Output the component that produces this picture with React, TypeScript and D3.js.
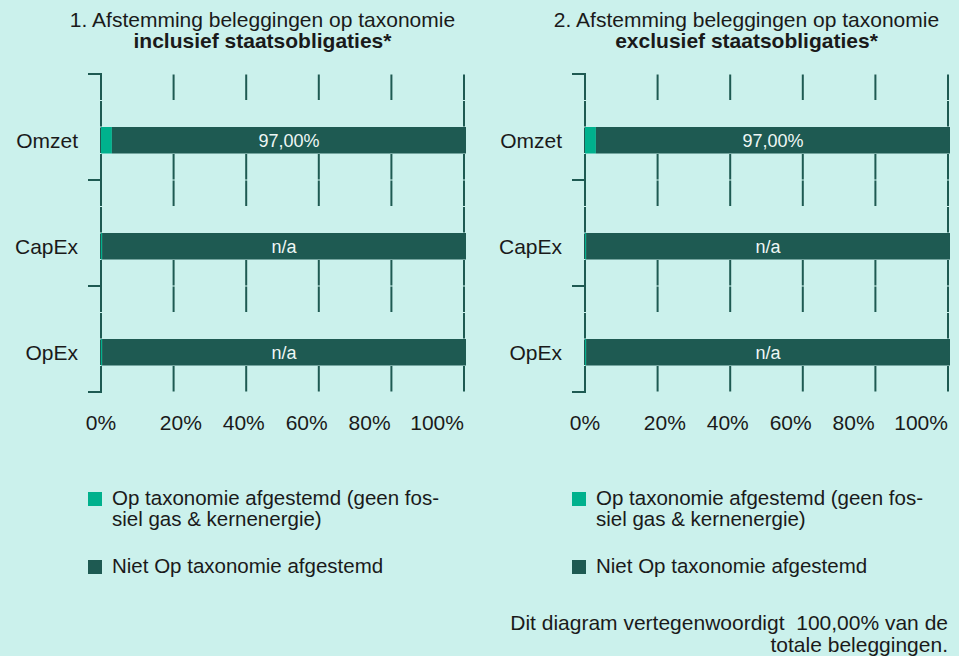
import { useEffect } from "react";
import * as d3 from "d3";

const categories = ["Omzet", "CapEx", "OpEx"];
const alignedIncl = [3, 0.3, 0.3];
const notAlignedIncl = [97, 99.7, 99.7];
const barLabelsIncl = ["97,00%", "n/a", "n/a"];
const alignedExcl = [3, 0.3, 0.3];
const notAlignedExcl = [97, 99.7, 99.7];
const barLabelsExcl = ["97,00%", "n/a", "n/a"];
const tickValues = [0, 20, 40, 60, 80, 100];
const legendItems = [
  ["Op taxonomie afgestemd (geen fos-", "siel gas & kernenergie)"],
  ["Niet Op taxonomie afgestemd"],
];

const BG = "#cbf1ec";
const DARK = "#1e5a52";
const GREEN = "#00b18d";
const FONT = "'Liberation Sans', Arial, sans-serif";

const W = 959;
const H = 656;
const PANEL_SHIFT = 484;

type PanelProps = {
  offset: number;
  number: string;
  boldTitle: string;
  aligned: number[];
  notAligned: number[];
  barLabels: string[];
};

const Panel = ({ offset, number, boldTitle, aligned, notAligned, barLabels }: PanelProps) => {
  const x = d3.scaleLinear().domain([0, 100]).range([101, 464]);
  const y = d3.scaleBand<string>().domain(categories).range([74, 392]);
  const slot = d3
    .scaleBand<string>()
    .domain(["gridTop", "blank", "bar", "gridBottom"])
    .range([0, y.bandwidth()]);
  const gridSlots = ["gridTop", "gridBottom"];
  const allSlots = slot.domain();
  // tick labels are spread unevenly in the original
  const labelX = d3.scaleLinear().domain([20, 80]).range([x(22), x(74)]);
  const titleX = x(50) - 20;

  return (
    <g transform={`translate(${offset},0)`}>
      <text x={titleX} y={27} textAnchor="middle" fontSize={21} fill="#1a1a1a">
        {number}. Afstemming beleggingen op taxonomie
      </text>
      <text x={titleX} y={48} textAnchor="middle" fontSize={21} fontWeight="bold" fill="#1a1a1a">
        {boldTitle}
      </text>

      {/* gridlines, drawn per slot */}
      {categories.map((c) =>
        tickValues.map((t) => {
          const slots = t === 0 || t === 100 ? allSlots : gridSlots;
          return slots.map((s) => {
            const y0 = (y(c) ?? 0) + (slot(s) ?? 0);
            return (
              <line
                key={`${c}-${t}-${s}`}
                x1={x(t)}
                x2={x(t)}
                y1={y0 + 0.5}
                y2={y0 + slot.bandwidth() - 0.5}
                stroke={DARK}
                strokeWidth={2}
              />
            );
          });
        })
      )}

      {/* left axis ticks */}
      {[...categories.map((c) => y(c) ?? 0), y.range()[1]].map((v, i) => (
        <line key={`tk${i}`} x1={x(0) - 13} x2={x(0) + 1} y1={v} y2={v} stroke={DARK} strokeWidth={2} />
      ))}

      {/* bars */}
      {categories.map((c, i) => {
        const by = (y(c) ?? 0) + (slot("bar") ?? 0);
        const bh = slot.bandwidth();
        const x0 = x(0);
        const x1 = x(aligned[i]);
        const x2 = x(aligned[i] + notAligned[i]) + 2;
        return (
          <g key={`bar-${c}`}>
            <rect x={x0} y={by} width={x1 - x0} height={bh} fill={GREEN} />
            <rect x={x1} y={by} width={x2 - x1} height={bh} fill={DARK} />
            <text
              x={(x1 + x2) / 2}
              y={by + bh / 2}
              dy="0.35em"
              textAnchor="middle"
              fontSize={18}
              fill="#eef7f5"
            >
              {barLabels[i]}
            </text>
            <text
              x={x(0) - 23}
              y={by + bh / 2}
              dy="0.35em"
              textAnchor="end"
              fontSize={21}
              fill="#1a1a1a"
            >
              {c}
            </text>
          </g>
        );
      })}

      {/* x tick labels */}
      {tickValues.map((t) => {
        const first = t === 0;
        const last = t === 100;
        const px = first || last ? x(t) : labelX(t);
        return (
          <text
            key={`xl${t}`}
            x={px}
            y={430}
            textAnchor={last ? "end" : "middle"}
            fontSize={21}
            fill="#1a1a1a"
          >
            {t}%
          </text>
        );
      })}

      {/* legend */}
      {legendItems.map((lines, i) => {
        const top = i === 0 ? 492 : 560;
        return (
          <g key={`lg${i}`}>
            <rect x={88} y={top} width={14} height={14} fill={i === 0 ? GREEN : DARK} />
            <text x={112} y={top + 13} fontSize={20.5} fill="#1a1a1a">
              {lines.map((ln, j) => (
                <tspan key={j} x={112} dy={j === 0 ? 0 : 21}>
                  {ln}
                </tspan>
              ))}
            </text>
          </g>
        );
      })}
    </g>
  );
};

const App = () => {
  useEffect(() => {
    document.body.style.margin = "0";
  }, []);

  return (
    <svg width={W} height={H} style={{ display: "block", fontFamily: FONT }}>
      <rect width={W} height={H} fill={BG} />
      <Panel
        offset={0}
        number="1"
        boldTitle="inclusief staatsobligaties*"
        aligned={alignedIncl}
        notAligned={notAlignedIncl}
        barLabels={barLabelsIncl}
      />
      <Panel
        offset={PANEL_SHIFT}
        number="2"
        boldTitle="exclusief staatsobligaties*"
        aligned={alignedExcl}
        notAligned={notAlignedExcl}
        barLabels={barLabelsExcl}
      />
      <text x={948} y={630} textAnchor="end" fontSize={21} fill="#1a1a1a" style={{ whiteSpace: "pre" }}>
        {"Dit diagram vertegenwoordigt  100,00% van de"}
      </text>
      <text x={948} y={652} textAnchor="end" fontSize={21} fill="#1a1a1a">
        totale beleggingen.
      </text>
    </svg>
  );
};

export default App;
